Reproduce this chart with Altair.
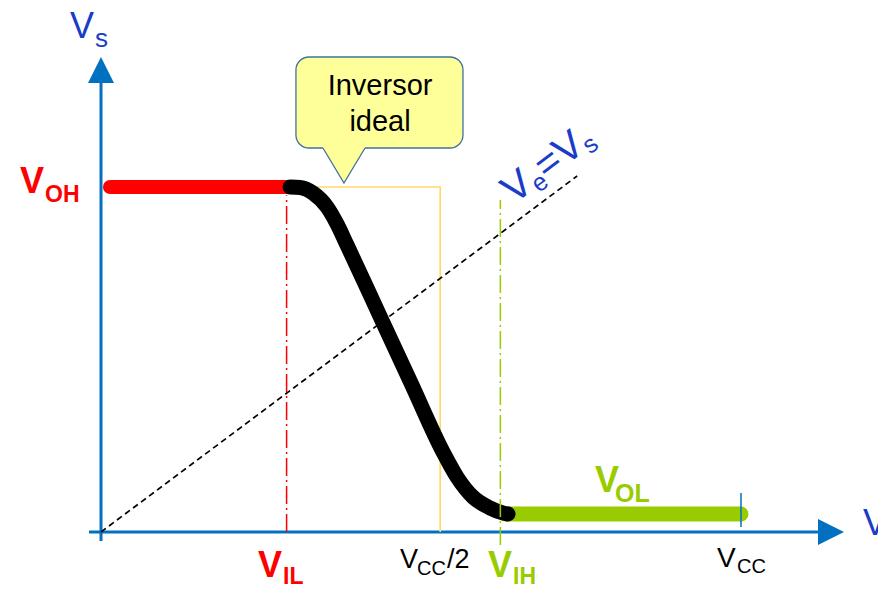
import altair as alt
import pandas as pd

# ---------------- values (volts, VCC = 5) ----------------
VCC = 5.0
VOH = 5.0
VOL = 0.26
VIL = 1.45
VIH = 3.12
V_IDEAL = 2.65          # ideal switching point (marked VCC/2)

curve_ve = [1.477, 1.555, 1.656, 1.766, 1.844, 1.922, 2.172, 2.422, 2.672,
            2.781, 2.906, 3.039, 3.141, 3.18]
curve_vs = [5.0, 4.993, 4.913, 4.710, 4.464, 4.159, 3.159, 2.159, 1.159,
            0.797, 0.507, 0.348, 0.275, 0.261]

# Ve = Vs reference line
diag_ve = [0.0, 3.72]
diag_vs = [0.0, 5.16]

# ideal inverter
ideal_ve = [1.5, V_IDEAL, V_IDEAL]
ideal_vs = [VOH, VOH, 0.0]

BLUE = "#0070C0"
TXT_BLUE = "#1A3CC8"
RED = "#FF0000"
GREEN = "#99CC00"
FONT = "Liberation Sans"

W, H = 870, 577
xs = alt.Scale(domain=[-0.7266, -0.7266 + W / 128.0], nice=False, zero=False)
ys = alt.Scale(domain=[7.5942 - H / 69.0, 7.5942], nice=False, zero=False)
X = lambda f="x": alt.X(f"{f}:Q", scale=xs, axis=None)
Y = lambda f="y": alt.Y(f"{f}:Q", scale=ys, axis=None)

def seg(x, y, x2=None, y2=None):
    d = {"x": x, "y": y}
    if x2 is not None:
        d["x2"] = x2
    if y2 is not None:
        d["y2"] = y2
    return pd.DataFrame([d])

layers = []

# axes
layers.append(alt.Chart(seg(-0.094, 0.0, x2=5.65)).mark_rule(color=BLUE, strokeWidth=3)
              .encode(x=X(), x2="x2", y=Y()))
layers.append(alt.Chart(seg(0.0, -0.13, y2=6.55)).mark_rule(color=BLUE, strokeWidth=3)
              .encode(x=X(), y=Y(), y2="y2"))

# ideal inverter (thin yellow)
ideal = pd.DataFrame({"x": ideal_ve, "y": ideal_vs, "i": range(len(ideal_ve))})
layers.append(alt.Chart(ideal).mark_line(color="#FFD966", strokeWidth=1.6)
              .encode(x=X(), y=Y(), order="i:Q"))

# Ve = Vs dashed
diag = pd.DataFrame({"x": diag_ve, "y": diag_vs})
layers.append(alt.Chart(diag).mark_line(color="black", strokeWidth=1.7, strokeDash=[6, 4])
              .encode(x=X(), y=Y()))

# VOH and VOL plateaus
layers.append(alt.Chart(seg(0.07, VOH, x2=1.5)).mark_rule(color=RED, strokeWidth=14, strokeCap="round")
              .encode(x=X(), x2="x2", y=Y()))
layers.append(alt.Chart(seg(3.16, VOL, x2=5.0)).mark_rule(color=GREEN, strokeWidth=15, strokeCap="round")
              .encode(x=X(), x2="x2", y=Y()))

# real curve
curve = pd.DataFrame({"x": curve_ve, "y": curve_vs})
layers.append(alt.Chart(curve).mark_line(color="black", strokeWidth=15, strokeCap="round",
                                         strokeJoin="round", interpolate="monotone")
              .encode(x=X(), y=Y()))

# VIL / VIH dash-dot markers
layers.append(alt.Chart(seg(VIL, 0.0, y2=4.88)).mark_rule(color=RED, strokeWidth=1.5, strokeDash=[18, 4, 2, 4])
              .encode(x=X(), y=Y(), y2="y2"))
layers.append(alt.Chart(seg(VIH, -0.19, y2=4.81)).mark_rule(color=GREEN, strokeWidth=1.5, strokeDash=[18, 4, 2, 4])
              .encode(x=X(), y=Y(), y2="y2"))

# VCC tick
layers.append(alt.Chart(seg(VCC, 0.072, y2=0.565)).mark_rule(color=BLUE, strokeWidth=1.5)
              .encode(x=X(), y=Y(), y2="y2"))

# arrow heads
layers.append(alt.Chart(seg(5.703, 0.0)).mark_point(shape="M-1,-1L1,0L-1,1Z", filled=True, size=676,
                                                  color=BLUE, opacity=1, strokeWidth=0)
              .encode(x=X(), y=Y()))
layers.append(alt.Chart(seg(0.0, 6.696)).mark_point(shape="M0,-1L1,1L-1,1Z", filled=True, size=676,
                                                  color=BLUE, opacity=1, strokeWidth=0)
              .encode(x=X(), y=Y()))

# callout "Inversor ideal"
layers.append(alt.Chart(seg(1.523, 6.884, x2=2.828, y2=5.565)).mark_rect(
    fill="#FFFF99", stroke="#41719C", strokeWidth=1.3, cornerRadius=13)
    .encode(x=X(), x2="x2", y=Y(), y2="y2"))
ptr = pd.DataFrame({"x": [1.734, 1.898, 2.0625], "y": [5.60, 5.60, 5.60], "y2": [5.565, 5.058, 5.565]})
layers.append(alt.Chart(ptr).mark_area(color="#FFFF99", opacity=1)
              .encode(x=X(), y=Y(), y2="y2"))
ptr_l = pd.DataFrame({"x": [1.734, 1.898, 2.0625], "y": [5.565, 5.058, 5.565]})
layers.append(alt.Chart(ptr_l).mark_line(color="#41719C", strokeWidth=1.3)
              .encode(x=X(), y=Y()))

callout_txt = pd.DataFrame({"t": ["Inversor", "ideal"], "x": [2.18, 2.18], "y": [6.333, 5.812]})
layers.append(alt.Chart(callout_txt).mark_text(font=FONT, fontSize=29, align="center",
                                               baseline="alphabetic", color="black")
              .encode(x=X(), y=Y(), text="t:N"))

# labels: text, x, y, size, colour, angle
def labels(rows, bold):
    df = pd.DataFrame(rows, columns=["t", "x", "y", "s", "c", "a"])
    return (alt.Chart(df).mark_text(font=FONT, align="left", baseline="alphabetic",
                                    fontWeight="bold" if bold else "normal")
            .encode(x=X(), y=Y(), text="t:N",
                    size=alt.Size("s:Q", scale=None, legend=None),
                    color=alt.Color("c:N", scale=None, legend=None),
                    angle=alt.Angle("a:Q", scale=None)))

regular = [
    ["V", -0.242, 7.159, 36, TXT_BLUE, 0],
    ["s", -0.047, 7.029, 26, TXT_BLUE, 0],
    ["V", 2.336, -0.522, 27, "black", 0],
    ["CC", 2.469, -0.623, 20, "black", 0],
    ["/2", 2.703, -0.522, 27, "black", 0],
    ["V", 4.8125, -0.507, 28, "black", 0],
    ["CC", 4.969, -0.594, 20, "black", 0],
    ["V", 5.953, -0.043, 36, TXT_BLUE, 0],
    ["e", 6.13, -0.19, 24, TXT_BLUE, 0],
    ["V", 3.227, 4.745, 40, TXT_BLUE, 323],
    ["e", 3.421, 4.909, 25, TXT_BLUE, 323],
    ["=", 3.480, 5.099, 40, TXT_BLUE, 323],
    ["V", 3.626, 5.303, 40, TXT_BLUE, 323],
    ["s", 3.821, 5.467, 25, TXT_BLUE, 323],
]
bold = [
    ["V", -0.633, 4.913, 36, RED, 0],
    ["OH", -0.4375, 4.783, 23, RED, 0],
    ["V", 1.227, -0.652, 36, RED, 0],
    ["IL", 1.422, -0.754, 23, RED, 0],
    ["V", 3.023, -0.652, 36, GREEN, 0],
    ["IH", 3.219, -0.754, 23, GREEN, 0],
    ["V", 3.859, 0.580, 36, GREEN, 0],
    ["OL", 4.016, 0.435, 25, GREEN, 0],
]
layers.append(labels(regular, False))
layers.append(labels(bold, True))

chart = (alt.layer(*layers)
         .properties(width=W, height=H, padding=0, autosize="none")
         .configure_view(stroke=None))

chart.save("out.html", embed_options={"renderer": "svg", "actions": False})
